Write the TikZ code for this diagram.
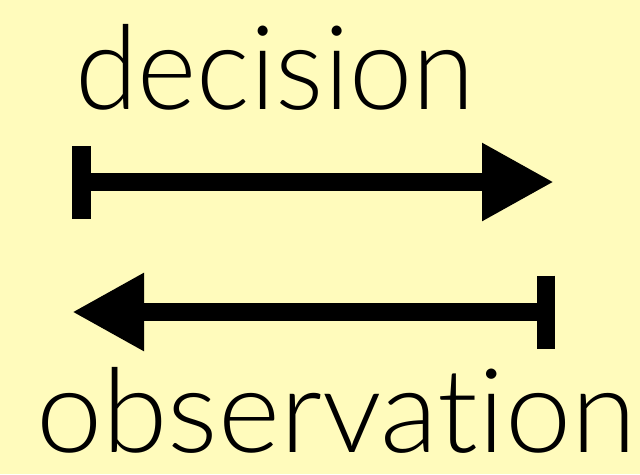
\documentclass[tikz,border=0pt]{standalone}
\usepackage{fontspec}
\setmainfont{Lato}[UprightFont=* Light, Ligatures={NoCommon,NoRare}]
\usetikzlibrary{arrows.meta}
\definecolor{paper}{HTML}{FFFBBC}
\begin{document}
\begin{tikzpicture}[x=1pt,y=-1pt,
  label/.style={inner sep=0pt, anchor=base west, font=\fontsize{117}{117}\selectfont},
  flow/.style={line width=18.5pt, draw=black},
  bartotip/.style={flow, {Bar[width=73pt]}-{Triangle[length=72pt,width=73pt]}}]
  \fill[paper] (0,0) rectangle (640,474);
  \useasboundingbox (0,0) rectangle (640,474);
  \node[label, xscale=0.97] (dec) at (75,109) {decision};
  \node[label, xscale=1.015] (obs) at (36,452) {observation};
  \coordinate (d0) at (72,182);
  \coordinate (d1) at (554,182);
  \coordinate (o0) at (555,312);
  \coordinate (o1) at (72,312);
  \draw[bartotip] (d0) -- (d1);
  \draw[bartotip] (o0) -- (o1);
\end{tikzpicture}
\end{document}
